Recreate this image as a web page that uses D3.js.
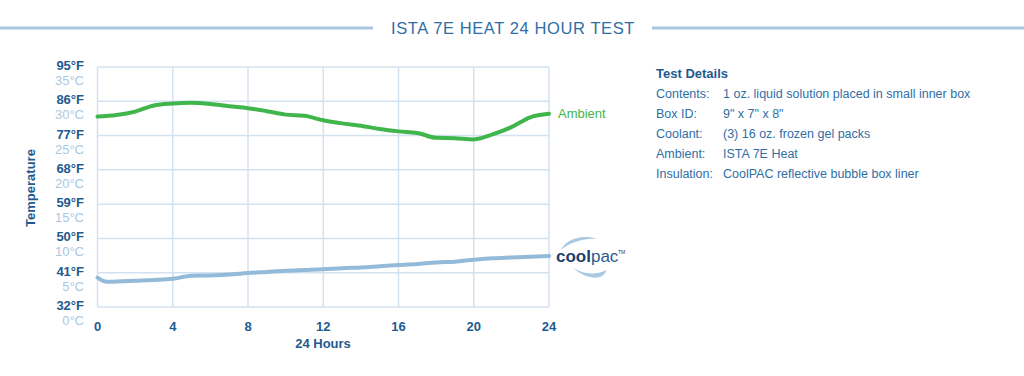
<!DOCTYPE html>
<html><head><meta charset="utf-8">
<script src="https://cdn.jsdelivr.net/npm/d3@7"></script>
<style>
body{margin:0;background:#fff;}
svg{display:block;font-family:"Liberation Sans",Arial,sans-serif;}
</style></head><body>
<svg id="c" width="1024" height="376"></svg>
<script>
const title = "ISTA 7E HEAT 24 HOUR TEST";
const hoursTicks = [0,4,8,12,16,20,24];
const fTicks = [32,41,50,59,68,77,86,95];
const cLabels = ["0°C","5°C","10°C","15°C","20°C","25°C","30°C","35°C"];
const ambientHours = [0,1,2,3,4,5,6,7,8,9,10,11,12,13,14,15,16,17,18,19,20,21,22,23,24];
const ambientF = [82.0,82.4,83.3,84.9,85.4,85.6,85.3,84.7,84.2,83.4,82.5,82.2,81.0,80.2,79.6,78.7,78.1,77.7,76.4,76.3,76.0,77.3,79.2,81.8,82.7];
const coolHours = [0,0.5,1,2,3,4,5,6,7,8,9,10,11,12,13,14,15,16,17,18,19,20,21,22,23,24];
const coolF = [39.7,38.6,38.7,38.9,39.1,39.4,40.2,40.3,40.5,40.9,41.2,41.5,41.7,41.9,42.2,42.4,42.7,43.0,43.3,43.7,43.9,44.4,44.8,45.0,45.2,45.4];
const details = [["Contents:","1 oz. liquid solution placed in small inner box"],["Box ID:","9\" x 7\" x 8\""],["Coolant:","(3) 16 oz. frozen gel packs"],["Ambient:","ISTA 7E Heat"],["Insulation:","CoolPAC reflective bubble box liner"]];

const svg = d3.select("#c");
const dark = "#1f5a8f", mid = "#2f6ea5", light = "#a9c8e2", grid = "#d3e2f0";

// Title
svg.append("text").attr("x",513).attr("y",33.5).attr("text-anchor","middle")
  .attr("font-size",16.5).attr("letter-spacing",0.6).attr("fill",mid).text(title);
svg.append("line").attr("x1",0).attr("x2",373).attr("y1",28).attr("y2",28).attr("stroke","#a9c6df").attr("stroke-width",3);
svg.append("line").attr("x1",652).attr("x2",1024).attr("y1",28).attr("y2",28).attr("stroke","#a9c6df").attr("stroke-width",3);

const x = d3.scaleLinear().domain([0,24]).range([97.5,549]);
const y = d3.scaleLinear().domain([32,95]).range([307,67]);

// grid
const g = svg.append("g");
g.selectAll(".h").data(fTicks).join("line").attr("x1",x(0)).attr("x2",x(24))
  .attr("y1",d=>y(d)).attr("y2",d=>y(d)).attr("stroke",grid).attr("stroke-width",1.5);
g.selectAll(".v").data(hoursTicks).join("line").attr("y1",y(32)).attr("y2",y(95))
  .attr("x1",d=>x(d)).attr("x2",d=>x(d)).attr("stroke",grid).attr("stroke-width",1.5);

// y labels
svg.selectAll(".fl").data(fTicks).join("text").attr("x",84).attr("y",d=>y(d)+3)
  .attr("text-anchor","end").attr("font-size",13).attr("font-weight","bold").attr("fill",dark).text(d=>d+"°F");
svg.selectAll(".cl").data(fTicks).join("text").attr("x",84).attr("y",(d)=>y(d)+18)
  .attr("text-anchor","end").attr("font-size",13).attr("fill",light).text((d,i)=>cLabels[i]);

// x labels
svg.selectAll(".xl").data(hoursTicks).join("text").attr("x",d=>x(d)).attr("y",331)
  .attr("text-anchor","middle").attr("font-size",13).attr("font-weight","bold").attr("fill",dark).text(d=>d);
svg.append("text").attr("x",323).attr("y",348).attr("text-anchor","middle").attr("font-size",13)
  .attr("font-weight","bold").attr("fill",dark).text("24 Hours");
svg.append("text").attr("transform","translate(35,188) rotate(-90)").attr("text-anchor","middle")
  .attr("font-size",13).attr("font-weight","bold").attr("fill",dark).text("Temperature");

// lines
const line = d3.line().x(d=>x(d[0])).y(d=>y(d[1]));
svg.append("path").datum(coolHours.map((h,i)=>[h,coolF[i]])).attr("d",line.curve(d3.curveMonotoneX))
  .attr("fill","none").attr("stroke","#93bad9").attr("stroke-width",4).attr("stroke-linecap","round");
svg.append("path").datum(ambientHours.map((h,i)=>[h,ambientF[i]])).attr("d",line.curve(d3.curveMonotoneX))
  .attr("fill","none").attr("stroke","#3fb54b").attr("stroke-width",4).attr("stroke-linecap","round");

svg.append("text").attr("x",558).attr("y",118).attr("font-size",13).attr("fill","#3fb54b").text("Ambient");

// coolpac logo
const lg = svg.append("g");
lg.append("path").attr("d","M561,250 C566,239 582,234 597,239 C584,238 571,242 561,250 Z").attr("fill","#a9c8e2");
lg.append("path").attr("d","M573,268 C585,275 598,275 606,270 C605,279 590,282 573,268 Z").attr("fill","#a9c8e2");
const lt = lg.append("text").attr("x",556).attr("y",262).attr("font-size",17).attr("fill","#1d3f6e");
lt.append("tspan").attr("font-weight","bold").text("cool");
lt.append("tspan").attr("fill","#2a5a8c").text("pac");
lg.append("text").attr("x",618).attr("y",254).attr("font-size",5).attr("fill","#1d3f6e").text("TM");

// details
svg.append("text").attr("x",656).attr("y",78).attr("font-size",13).attr("font-weight","bold").attr("fill",dark).text("Test Details");
const rows = svg.selectAll(".dr").data(details).join("g");
rows.append("text").attr("x",656).attr("y",(d,i)=>98+i*20).attr("font-size",12.5).attr("fill",mid).text(d=>d[0]);
rows.append("text").attr("x",723).attr("y",(d,i)=>98+i*20).attr("font-size",12.5).attr("fill",mid).text(d=>d[1]);
</script></body></html>
